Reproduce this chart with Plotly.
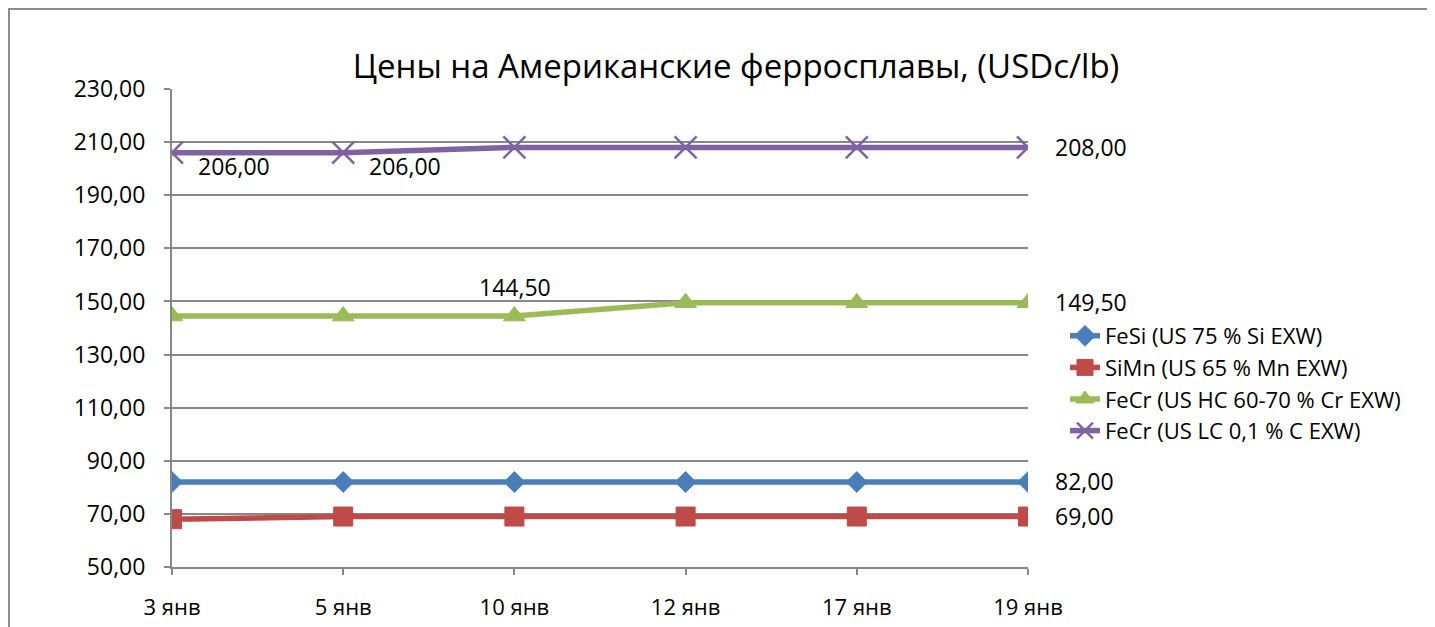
import plotly.graph_objects as go

categories = ["3 янв", "5 янв", "10 янв", "12 янв", "17 янв", "19 янв"]
fesi = [82.0, 82.0, 82.0, 82.0, 82.0, 82.0]
simn = [68.0, 69.0, 69.0, 69.0, 69.0, 69.0]
fecr_hc = [144.5, 144.5, 144.5, 149.5, 149.5, 149.5]
fecr_lc = [206.0, 206.0, 208.0, 208.0, 208.0, 208.0]

names = ["FeSi (US 75 % Si EXW)", "SiMn (US 65 % Mn EXW)",
         "FeCr (US HC 60-70 % Cr EXW)", "FeCr (US LC 0,1 % C EXW)"]
title = "Цены на Американские ферросплавы, (USDc/lb)"

FONT = "'Open Sans', Lato, sans-serif"
GRID = "#878787"

# page body has an 8px margin; compensate so the plot area lands at
# x 172..1028, y 89..567 of the window
OFF = 8
W, H = 1435 - OFF, 627 - OFF
PL, PT, PW, PH = 172 - OFF, 89 - OFF, 856, 478

series = [
    (fesi, names[0], "#4A7EBB", "diamond", 16, 1),
    (simn, names[1], "#BE4B48", "square", 19, 1),
    (fecr_hc, names[2], "#9BBB59", "triangle-up", 19, 1),
    (fecr_lc, names[3], "#7F62A1", "x-thin", 22, 2.5),
]

fig = go.Figure()
for vals, name, col, sym, sz, lw in series:
    fig.add_trace(go.Scatter(
        x=categories, y=vals, name=name, mode="lines+markers",
        line=dict(color=col, width=5.5),
        marker=dict(symbol=sym, size=sz, color=col,
                    line=dict(color=col, width=lw)),
    ))

def fmt(v):
    return f"{v:.2f}".replace(".", ",")

ann = []
label_spec = [
    (fecr_lc, 0, dict(xanchor="left", yanchor="middle", xshift=24, yshift=-13)),
    (fecr_lc, 1, dict(xanchor="left", yanchor="middle", xshift=24, yshift=-13)),
    (fecr_lc, 5, dict(xanchor="left", yanchor="middle", xshift=25, yshift=0)),
    (fecr_hc, 2, dict(xanchor="center", yanchor="middle", xshift=1, yshift=29)),
    (fecr_hc, 5, dict(xanchor="left", yanchor="middle", xshift=25, yshift=1)),
    (fesi, 5, dict(xanchor="left", yanchor="middle", xshift=25, yshift=1)),
    (simn, 5, dict(xanchor="left", yanchor="middle", xshift=25, yshift=1)),
]
for vals, i, kw in label_spec:
    ann.append(dict(x=categories[i], y=vals[i], xref="x", yref="y",
                    text=fmt(vals[i]), showarrow=False,
                    font=dict(family=FONT, size=23, color="black"), **kw))

fig.update_layout(
    width=W, height=H,
    margin=dict(l=PL, r=W - PL - PW, t=PT, b=H - PT - PH, autoexpand=False),
    paper_bgcolor="white", plot_bgcolor="white",
    separators=", ",
    font=dict(family=FONT, size=22, color="black"),
    title=dict(text=title, x=(736 - OFF) / W, xanchor="center",
               y=1 - (66 - OFF) / H, yanchor="middle",
               font=dict(family=FONT, size=33, color="black")),
    showlegend=True,
    legend=dict(x=(1065 - 172) / PW, y=(567 - 315) / PH, xanchor="left",
                yanchor="top", font=dict(family=FONT, size=22),
                bgcolor="rgba(0,0,0,0)", tracegroupgap=0),
    annotations=ann,
    shapes=[dict(type="rect", xref="paper", yref="paper",
                 x0=(9 - 172) / PW, x1=3, y0=-1, y1=(567 - 9) / PH,
                 line=dict(color="#8c8c8c", width=2), layer="below")],
)

fig.update_xaxes(
    type="category", range=[0, 5], showgrid=False,
    showline=True, linecolor=GRID, linewidth=2,
    ticks="outside", ticklen=6, tickcolor=GRID, tickwidth=2,
    ticklabelstandoff=14, tickfont=dict(family=FONT, size=22),
    zeroline=False,
)
fig.update_yaxes(
    range=[50, 230], dtick=20, tick0=50, tickformat=".2f",
    showgrid=True, gridcolor=GRID, gridwidth=2,
    showline=True, linecolor=GRID, linewidth=2,
    ticks="outside", ticklen=6, tickcolor=GRID, tickwidth=2,
    ticklabelstandoff=14, tickfont=dict(family=FONT, size=23),
    zeroline=False,
)

fig.write_html("out.html")
